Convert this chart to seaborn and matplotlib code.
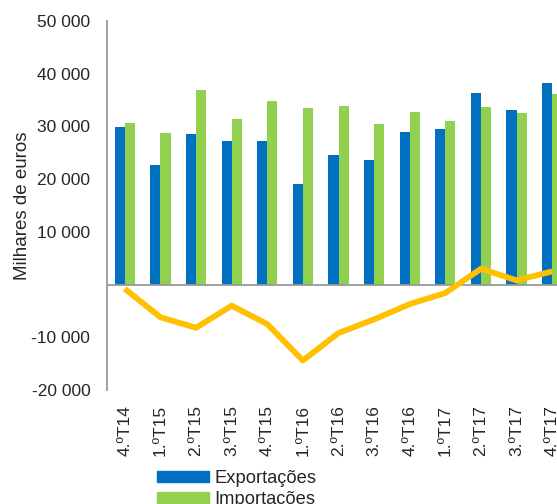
import numpy as np
import pandas as pd
import matplotlib
matplotlib.use("Agg")
import matplotlib.pyplot as plt
import seaborn as sns
from matplotlib.patches import Patch
from matplotlib.lines import Line2D
from matplotlib.ticker import FuncFormatter

quarters = ["4.ºT14", "1.ºT15", "2.ºT15", "3.ºT15", "4.ºT15", "1.ºT16", "2.ºT16",
            "3.ºT16", "4.ºT16", "1.ºT17", "2.ºT17", "3.ºT17", "4.ºT17"]
exports = [29900, 22600, 28600, 27300, 27300, 19100, 24500,
           23600, 29000, 29500, 36400, 33200, 38300]
imports = [30700, 28800, 36900, 31400, 34900, 33500, 33800,
           30400, 32800, 31100, 33700, 32500, 36100]
balance = [-800, -6200, -8200, -4000, -7500, -14400, -9200,
           -6600, -3700, -1600, 3000, 800, 2500]
series_names = ["Exportações", "Importações", "Saldo"]
colors = ["#0070C0", "#92D050", "#FFC000"]

df = pd.DataFrame({
    "trimestre": quarters * 2,
    "valor": exports + imports,
    "serie": [series_names[0]] * len(quarters) + [series_names[1]] * len(quarters),
})

sns.set_style("white")
plt.rcParams["font.family"] = ["Liberation Sans", "DejaVu Sans"]
plt.rcParams["font.size"] = 12.5

fig = plt.figure(figsize=(5.57, 5.04), dpi=100)
ax = fig.add_axes([107 / 557, 114 / 504, 463 / 557, 369 / 504])

sns.barplot(data=df, x="trimestre", y="valor", hue="serie", palette=colors[:2],
            width=0.57, gap=0, saturation=1, legend=False, ax=ax, zorder=2,
            edgecolor="none", linewidth=0)
sns.pointplot(x=quarters, y=balance, color=colors[2], markers="", linestyles="-",
              errorbar=None, ax=ax, zorder=4)
for ln in ax.lines:
    ln.set_linewidth(4.2)
    ln.set_solid_capstyle("butt")

ax.axhline(0, color="#989898", lw=1.3, zorder=3)
ax.set_ylim(-20000, 50000)
ax.set_xlim(-0.5, 12.5)
ax.set_yticks(np.arange(-20000, 50001, 10000))
ax.yaxis.set_major_formatter(FuncFormatter(
    lambda v, p: "" if v == 0 else f"{int(v):,}".replace(",", " ")))

for s in ["top", "right", "bottom"]:
    ax.spines[s].set_visible(False)
ax.spines["left"].set_color("#989898")
ax.spines["left"].set_linewidth(1.3)

ax.tick_params(axis="x", rotation=90, length=0, pad=11, labelsize=12.5)
ax.tick_params(axis="y", length=0, pad=12, labelsize=12.5)
ax.set_xlabel("")
ax.set_ylabel("Milhares de euros", fontsize=13.5)
ax.yaxis.set_label_coords(-0.165, 0.5)

# legend sits partly below the figure edge, as in the source
handles = [Patch(color=colors[0]), Patch(color=colors[1]),
           Line2D([], [], color=colors[2], lw=4.2)]
fig.legend(handles, series_names, loc="upper left",
           bbox_to_anchor=(157 / 557, 1 - 470 / 504), frameon=False,
           borderpad=0, borderaxespad=0, handlelength=2.85, handleheight=0.55,
           handletextpad=0.28, labelspacing=0.22, fontsize=13.2)

fig.savefig("out.png", dpi=100)
